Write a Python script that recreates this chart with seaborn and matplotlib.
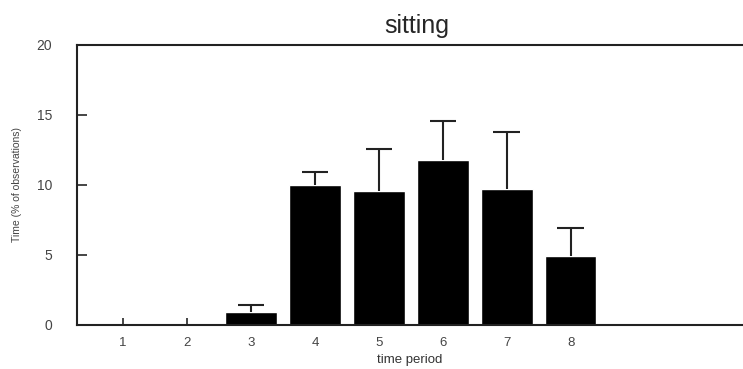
import numpy as np
import pandas as pd
import matplotlib
matplotlib.use("Agg")
import matplotlib.pyplot as plt
import seaborn as sns

# values
periods = ["1", "2", "3", "4", "5", "6", "7", "8"]
mean_time = [0.0, 0.0, 0.9, 10.0, 9.6, 11.8, 9.7, 4.9]
err_upper = [0.0, 0.0, 0.5, 0.9, 3.0, 2.8, 4.1, 2.0]

y_ticks = [0, 5, 10, 15, 20]

df = pd.DataFrame({"period": periods, "time": mean_time, "err": err_upper})

sns.set_style("ticks")
plt.rcParams["font.family"] = ["Liberation Sans", "DejaVu Sans"]

fig = plt.figure(figsize=(7.43, 3.69), dpi=100)
ax = fig.add_axes([77 / 743, 44 / 369, 666 / 743, 280 / 369])

sns.barplot(data=df, x="period", y="time", order=periods, color="black",
            width=0.8, saturation=1, errorbar=None, ax=ax)

# upper-only error bars (stem + cap) at the bar centres
centers = np.array([p.get_x() + p.get_width() / 2 for p in ax.patches])
top = df["time"] + df["err"]
has_err = (df["err"] > 0).to_numpy()
cap_half = 0.21
ax.vlines(centers[has_err], df["time"][has_err], top[has_err],
          color="#222222", linewidth=1.5)
ax.hlines(top[has_err], centers[has_err] - cap_half, centers[has_err] + cap_half,
          color="#222222", linewidth=1.5)

ax.set_ylim(0, 20)
ax.set_xlim(-0.72, 9.69)
ax.set_yticks(y_ticks)
ax.tick_params(axis="y", direction="in", length=7, width=1.2, pad=18,
               labelsize=10, labelcolor="#444444")
ax.tick_params(axis="x", direction="in", length=5, width=1.2, pad=9,
               labelsize=9.5, labelcolor="#444444")

for s in ["left", "bottom", "top"]:
    ax.spines[s].set_visible(True)
    ax.spines[s].set_linewidth(1.5)
    ax.spines[s].set_color("#222222")
ax.spines["right"].set_visible(False)

ax.set_xlabel("time period", fontsize=9.5, color="#333333", labelpad=3)
ax.set_ylabel("Time (% of observations)", fontsize=7.5, color="#444444", labelpad=10)
ax.set_title("sitting", fontsize=18, x=0.51, pad=9)

fig.savefig("out.png", dpi=100)
